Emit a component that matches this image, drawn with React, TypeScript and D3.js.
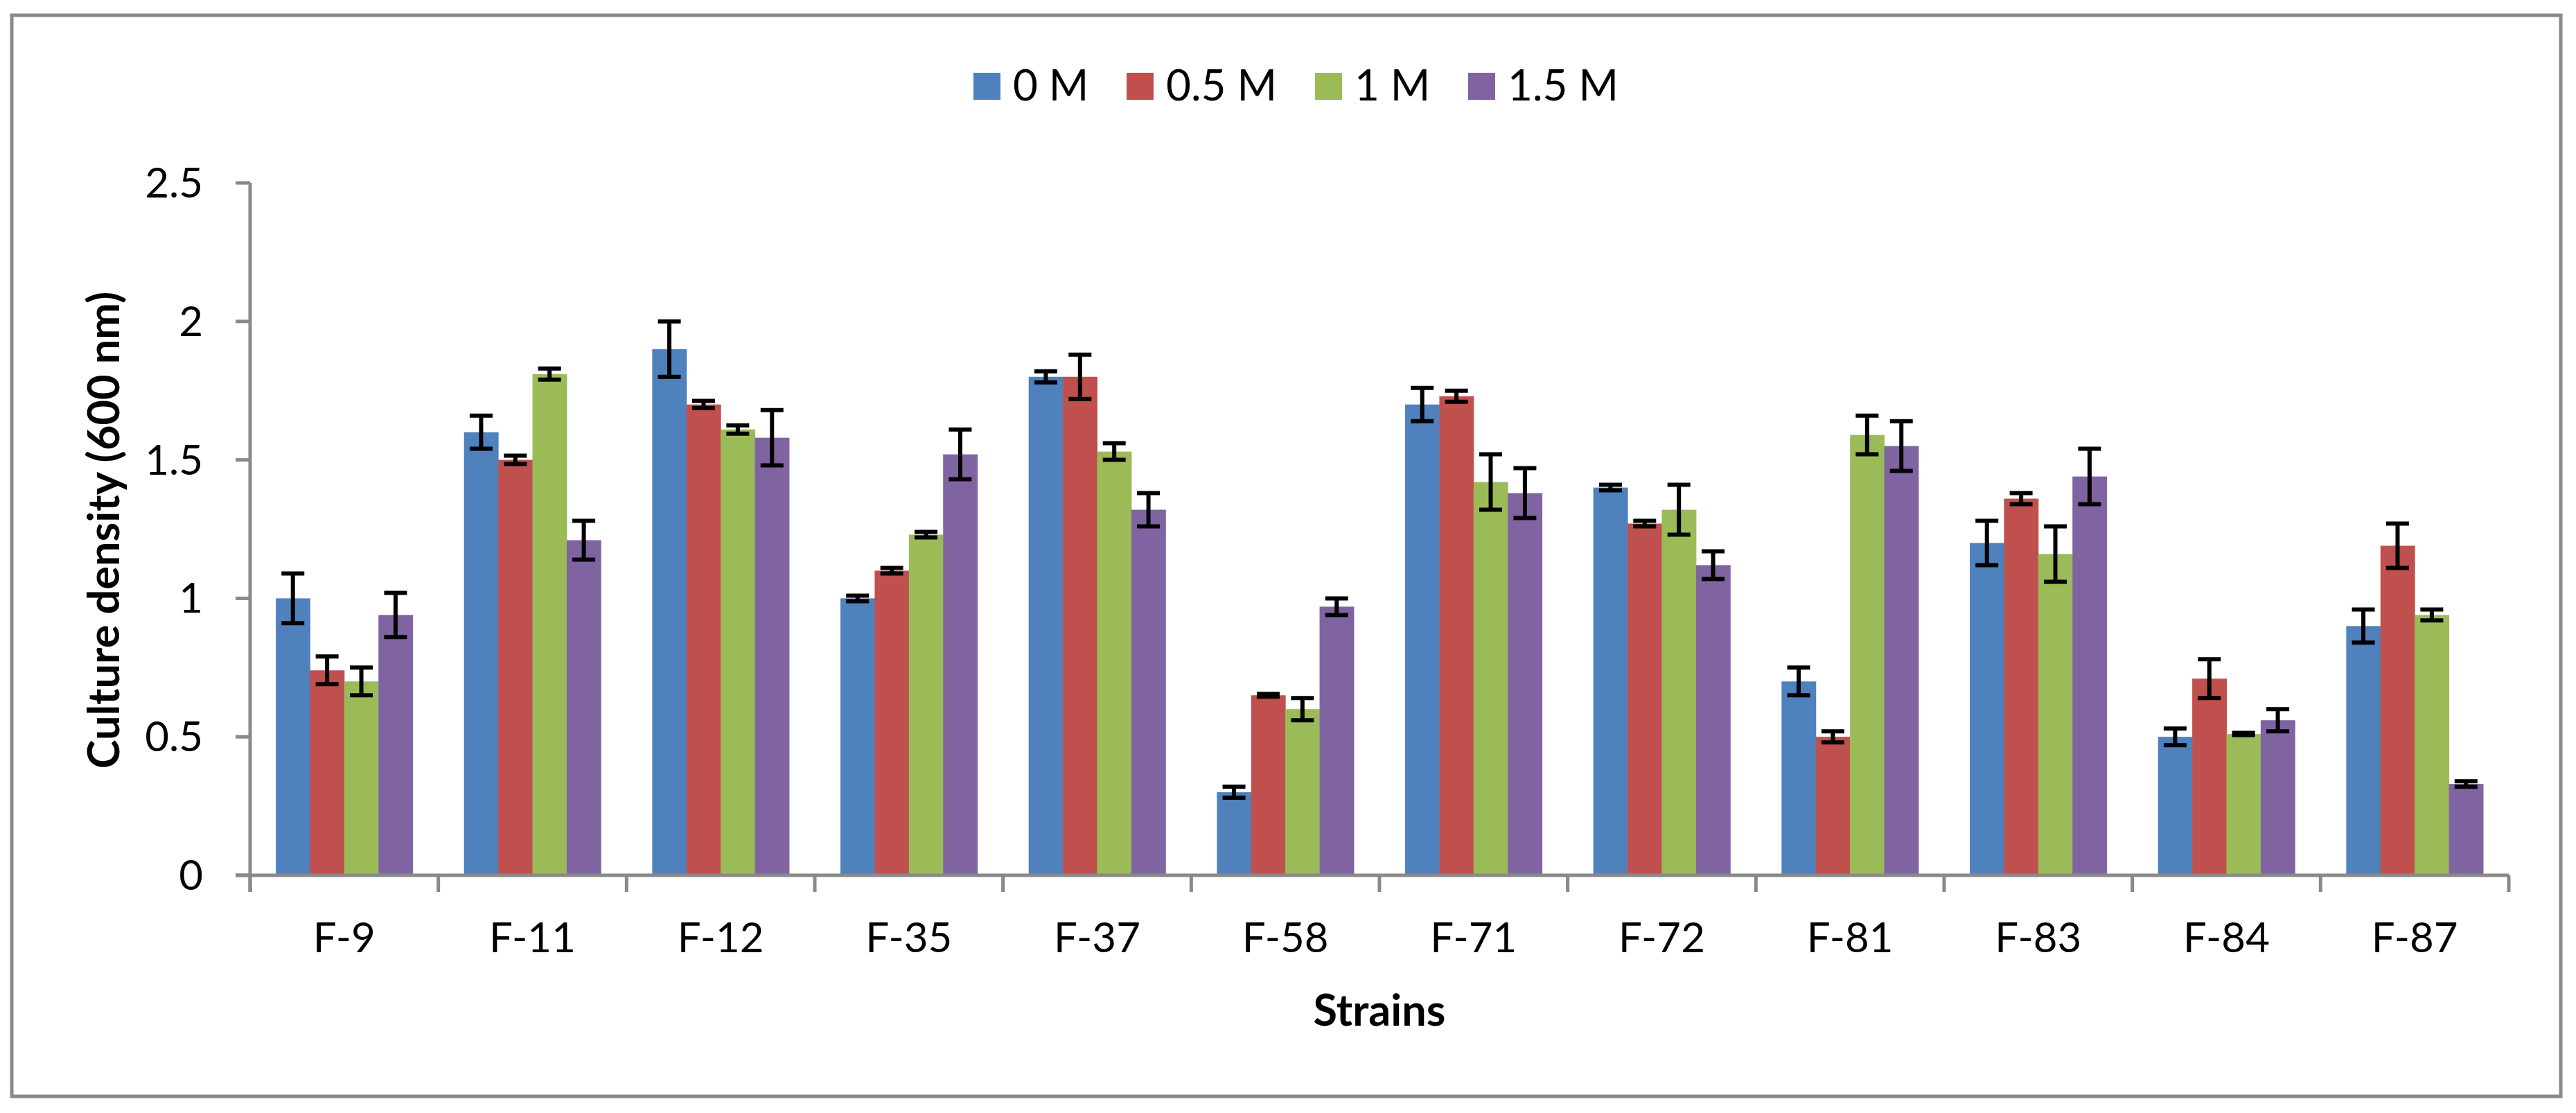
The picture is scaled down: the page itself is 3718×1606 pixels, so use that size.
import React from "react";
import * as d3 from "d3";

const strains = ["F-9", "F-11", "F-12", "F-35", "F-37", "F-58", "F-71", "F-72", "F-81", "F-83", "F-84", "F-87"];
const seriesNames = ["0 M", "0.5 M", "1 M", "1.5 M"];
const seriesColors = ["#4F81BD", "#C0504D", "#9BBB59", "#8064A2"];

const values0M = [1.0, 1.6, 1.9, 1.0, 1.8, 0.3, 1.7, 1.4, 0.7, 1.2, 0.5, 0.9];
const values05M = [0.74, 1.5, 1.7, 1.1, 1.8, 0.65, 1.73, 1.27, 0.5, 1.36, 0.71, 1.19];
const values1M = [0.7, 1.81, 1.61, 1.23, 1.53, 0.6, 1.42, 1.32, 1.59, 1.16, 0.51, 0.94];
const values15M = [0.94, 1.21, 1.58, 1.52, 1.32, 0.97, 1.38, 1.12, 1.55, 1.44, 0.56, 0.33];

const errors0M = [0.09, 0.06, 0.1, 0.01, 0.02, 0.02, 0.06, 0.01, 0.05, 0.08, 0.03, 0.06];
const errors05M = [0.05, 0.015, 0.013, 0.01, 0.08, 0.005, 0.02, 0.01, 0.02, 0.02, 0.07, 0.08];
const errors1M = [0.05, 0.02, 0.015, 0.01, 0.03, 0.04, 0.1, 0.09, 0.07, 0.1, 0.004, 0.02];
const errors15M = [0.08, 0.07, 0.1, 0.09, 0.06, 0.03, 0.09, 0.05, 0.09, 0.1, 0.04, 0.01];

const yTicks = [0, 0.5, 1, 1.5, 2, 2.5];

const allValues = [values0M, values05M, values1M, values15M];
const allErrors = [errors0M, errors05M, errors1M, errors15M];

const W = 3718;
const H = 1606;
const FONT = "Lato, 'Open Sans', sans-serif";
const AXIS = "#898989";

const App: React.FC = () => {
  const x = d3.scaleBand<string>().domain(strains).range([361, 3621]);
  const bw = x.bandwidth();
  // gap width 150% like excel
  const edge = (bw * 0.75) / 5.5;
  const x1 = d3.scaleBand<string>().domain(seriesNames).range([edge, bw - edge]);
  const y = d3.scaleLinear().domain([0, 2.5]).range([1263, 264]);
  const capW = 33;

  // legend layout
  const legendX = [1405, 1626, 1898, 2119];

  return (
    <svg
      width={W}
      height={H}
      style={{ position: "absolute", left: 0, top: 0, background: "#fff" }}
      fontFamily={FONT}
    >
      <rect x={0} y={0} width={W} height={H} fill="#fff" />
      <rect x={17} y={22} width={3679} height={1560} fill="none" stroke={AXIS} strokeWidth={5} />

      {/* legend */}
      {seriesNames.map((s, i) => (
        <g key={s} transform={`translate(${legendX[i]},105)`}>
          <rect width={39} height={39} fill={seriesColors[i]} />
          <text x={57} y={40} fontSize={62} fill="#000">
            {s}
          </text>
        </g>
      ))}

      {/* bars */}
      {strains.map((st, j) => (
        <g key={st} transform={`translate(${x(st)},0)`}>
          {seriesNames.map((s, i) => {
            const v = allValues[i][j];
            const e = allErrors[i][j];
            const bx = x1(s)!;
            const cx = bx + x1.bandwidth() / 2;
            return (
              <g key={s}>
                <rect x={bx} y={y(v)} width={x1.bandwidth() + 0.5} height={y(0) - y(v)} fill={seriesColors[i]} />
                <line x1={cx} x2={cx} y1={y(v + e)} y2={y(v - e)} stroke="#000" strokeWidth={6} />
                <line x1={cx - capW / 2} x2={cx + capW / 2} y1={y(v + e)} y2={y(v + e)} stroke="#000" strokeWidth={6} />
                <line x1={cx - capW / 2} x2={cx + capW / 2} y1={y(v - e)} y2={y(v - e)} stroke="#000" strokeWidth={6} />
              </g>
            );
          })}
        </g>
      ))}

      {/* y axis */}
      <line x1={361} x2={361} y1={y(2.5)} y2={y(0) + 24} stroke={AXIS} strokeWidth={5} />
      {yTicks.map((t) => (
        <g key={t}>
          <line x1={340} x2={361} y1={y(t)} y2={y(t)} stroke={AXIS} strokeWidth={5} />
          <text x={293} y={y(t) + 21} textAnchor="end" fontSize={60} fill="#000">
            {t}
          </text>
        </g>
      ))}

      {/* x axis */}
      <line x1={340} x2={3621} y1={y(0)} y2={y(0)} stroke={AXIS} strokeWidth={5} />
      {[...strains.map((s) => x(s)!), x.range()[1]].map((px, i) => (
        <line key={i} x1={px} x2={px} y1={y(0)} y2={y(0) + 24} stroke={AXIS} strokeWidth={5} />
      ))}
      {strains.map((s) => (
        <text key={s} x={x(s)! + bw / 2} y={1374} textAnchor="middle" fontSize={60} fill="#000">
          {s}
        </text>
      ))}

      <text x={1991} y={1480} textAnchor="middle" fontSize={63} fontWeight="bold" fill="#000">
        Strains
      </text>
      <text
        transform="translate(172,765) rotate(-90)"
        textAnchor="middle"
        fontSize={63}
        fontWeight="bold"
        fill="#000"
      >
        Culture density (600 nm)
      </text>
    </svg>
  );
};

export default App;
